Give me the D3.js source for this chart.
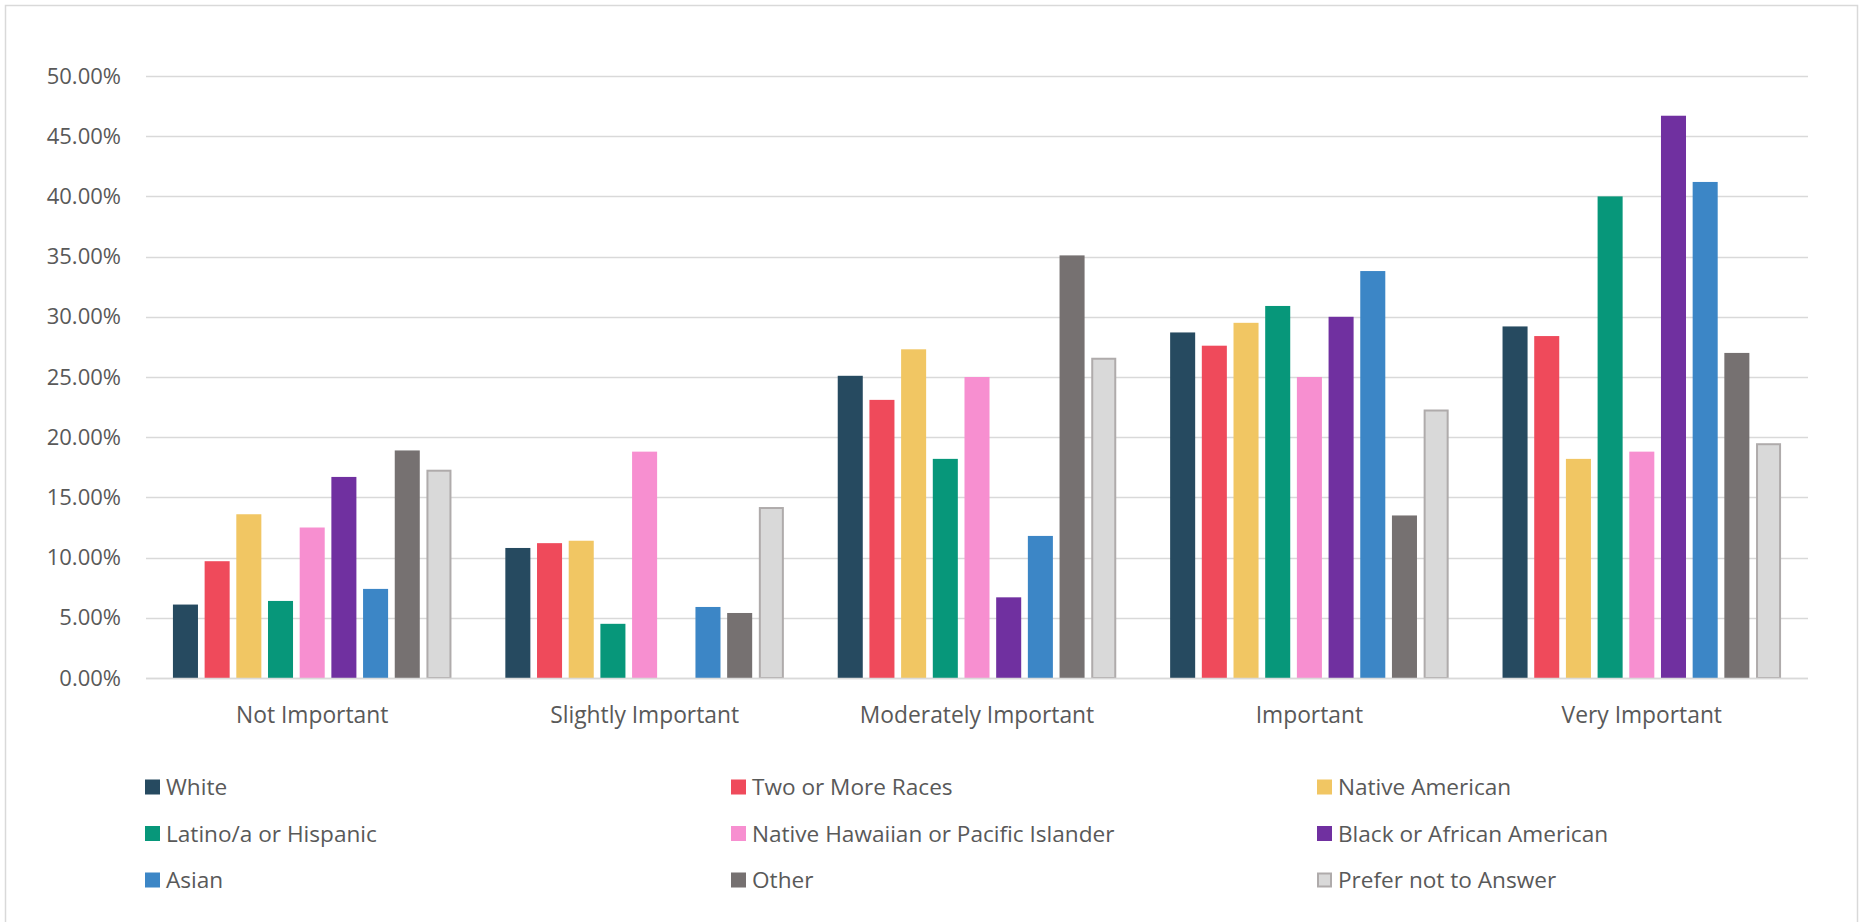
<!DOCTYPE html>
<html>
<head>
<meta charset="utf-8">
<script src="https://cdn.jsdelivr.net/npm/d3@7"></script>
<style>
  html, body { margin: 0; padding: 0; background: #fff; }
  svg { display: block; }
  text { font-family: "Open Sans", "Noto Sans", sans-serif; fill: #595959; }
</style>
</head>
<body>
<svg id="chart" width="1864" height="922"></svg>
<script>
const categories = ["Not Important", "Slightly Important", "Moderately Important", "Important", "Very Important"];
const seriesNames = ["White", "Two or More Races", "Native American", "Latino/a or Hispanic",
  "Native Hawaiian or Pacific Islander", "Black or African American", "Asian", "Other", "Prefer not to Answer"];
const seriesColors = ["#264A60", "#EF4A5B", "#F1C663", "#07977A", "#F78FD0", "#7030A0", "#3C86C6", "#767171", "#D9D9D9"];
const seriesStrokes = [null, null, null, null, null, null, null, null, "#AFABAB"];

// values in percent, one array per series (order follows categories)
const white         = [6.1, 10.8, 25.1, 28.7, 29.2];
const twoOrMore     = [9.7, 11.2, 23.1, 27.6, 28.4];
const nativeAm      = [13.6, 11.4, 27.3, 29.5, 18.2];
const latino        = [6.4, 4.5, 18.2, 30.9, 40.0];
const nativeHawaii  = [12.5, 18.8, 25.0, 25.0, 18.8];
const black         = [16.7, 0, 6.7, 30.0, 46.7];
const asian         = [7.4, 5.9, 11.8, 33.8, 41.2];
const other         = [18.9, 5.4, 35.1, 13.5, 27.0];
const preferNot     = [17.3, 14.2, 26.6, 22.3, 19.5];
const seriesValues = [white, twoOrMore, nativeAm, latino, nativeHawaii, black, asian, other, preferNot];

const yTicks = [0, 5, 10, 15, 20, 25, 30, 35, 40, 45, 50];

const svg = d3.select("#chart");

// outer chart border
svg.append("rect")
  .attr("x", 5.5).attr("y", 5.5)
  .attr("width", 1852).attr("height", 940)
  .attr("fill", "none").attr("stroke", "#D9D9D9").attr("stroke-width", 1.5);

const plot = { left: 146, right: 1808, top: 76, bottom: 678 };

const y = d3.scaleLinear().domain([0, 50]).range([plot.bottom, plot.top]);
const x0 = d3.scaleBand().domain(categories).range([plot.left, plot.right]).padding(0);
const x1 = d3.scaleBand().domain(d3.range(seriesNames.length))
  .range([0, x0.bandwidth()]).paddingInner(0.21).paddingOuter(0.85);

// gridlines
const grid = svg.append("g");
grid.selectAll("line").data(yTicks).join("line")
  .attr("x1", plot.left).attr("x2", plot.right)
  .attr("y1", d => Math.round(y(d)) + 0.5).attr("y2", d => Math.round(y(d)) + 0.5)
  .attr("stroke", "#D9D9D9").attr("stroke-width", 1.6);

// y axis labels
const yAxis = d3.axisLeft(y).tickValues(yTicks).tickSize(0).tickPadding(25)
  .tickFormat(d => d.toFixed(2) + "%");
const yg = svg.append("g").attr("transform", `translate(${plot.left},0)`).call(yAxis);
yg.select(".domain").remove();
yg.selectAll("text").style("font-size", "22px").attr("fill", "#595959")
  .style("font-family", '"Open Sans", "Noto Sans", sans-serif');

// bars
const groups = svg.append("g").selectAll("g").data(categories).join("g")
  .attr("transform", d => `translate(${x0(d)},0)`);
groups.each(function(cat, ci) {
  const data = seriesNames.map((s, si) => ({ si, v: seriesValues[si][ci] }));
  d3.select(this).selectAll("rect").data(data.filter(d => d.v > 0)).join("rect")
    .attr("x", d => x1(d.si) + (seriesStrokes[d.si] ? 1 : 0))
    .attr("width", d => x1.bandwidth() - (seriesStrokes[d.si] ? 2 : 0))
    .attr("y", d => y(d.v) + (seriesStrokes[d.si] ? 1 : 0))
    .attr("height", d => y(0) - y(d.v) - (seriesStrokes[d.si] ? 1 : 0))
    .attr("fill", d => seriesColors[d.si])
    .attr("stroke", d => seriesStrokes[d.si] || "none")
    .attr("stroke-width", 2);
});

// x axis baseline
svg.append("line")
  .attr("x1", plot.left).attr("x2", plot.right)
  .attr("y1", plot.bottom + 0.5).attr("y2", plot.bottom + 0.5)
  .attr("stroke", "#D9D9D9").attr("stroke-width", 1.6);

// x axis labels
const xAxis = d3.axisBottom(x0).tickSize(0).tickPadding(0);
const xg = svg.append("g").attr("transform", `translate(0,${plot.bottom})`).call(xAxis);
xg.select(".domain").remove();
xg.selectAll("text").style("font-size", "22.8px").attr("fill", "#595959")
  .style("font-family", '"Open Sans", "Noto Sans", sans-serif')
  .attr("dy", null).attr("y", 45);

// legend
const legendCols = [145, 731, 1317];
const legendRows = [787, 833.5, 880];
const legend = svg.append("g").selectAll("g").data(seriesNames).join("g")
  .attr("transform", (d, i) => `translate(${legendCols[i % 3]},${legendRows[Math.floor(i / 3)]})`);
legend.append("rect")
  .attr("x", (d, i) => seriesStrokes[i] ? 1 : 0)
  .attr("y", (d, i) => -7.5 + (seriesStrokes[i] ? 1 : 0))
  .attr("width", (d, i) => 15 - (seriesStrokes[i] ? 2 : 0))
  .attr("height", (d, i) => 15 - (seriesStrokes[i] ? 2 : 0))
  .attr("fill", (d, i) => seriesColors[i])
  .attr("stroke", (d, i) => seriesStrokes[i] || "none")
  .attr("stroke-width", 2);
legend.append("text")
  .attr("x", 21).attr("y", 8)
  .style("font-size", "22.6px")
  .text(d => d);
</script>
</body>
</html>
